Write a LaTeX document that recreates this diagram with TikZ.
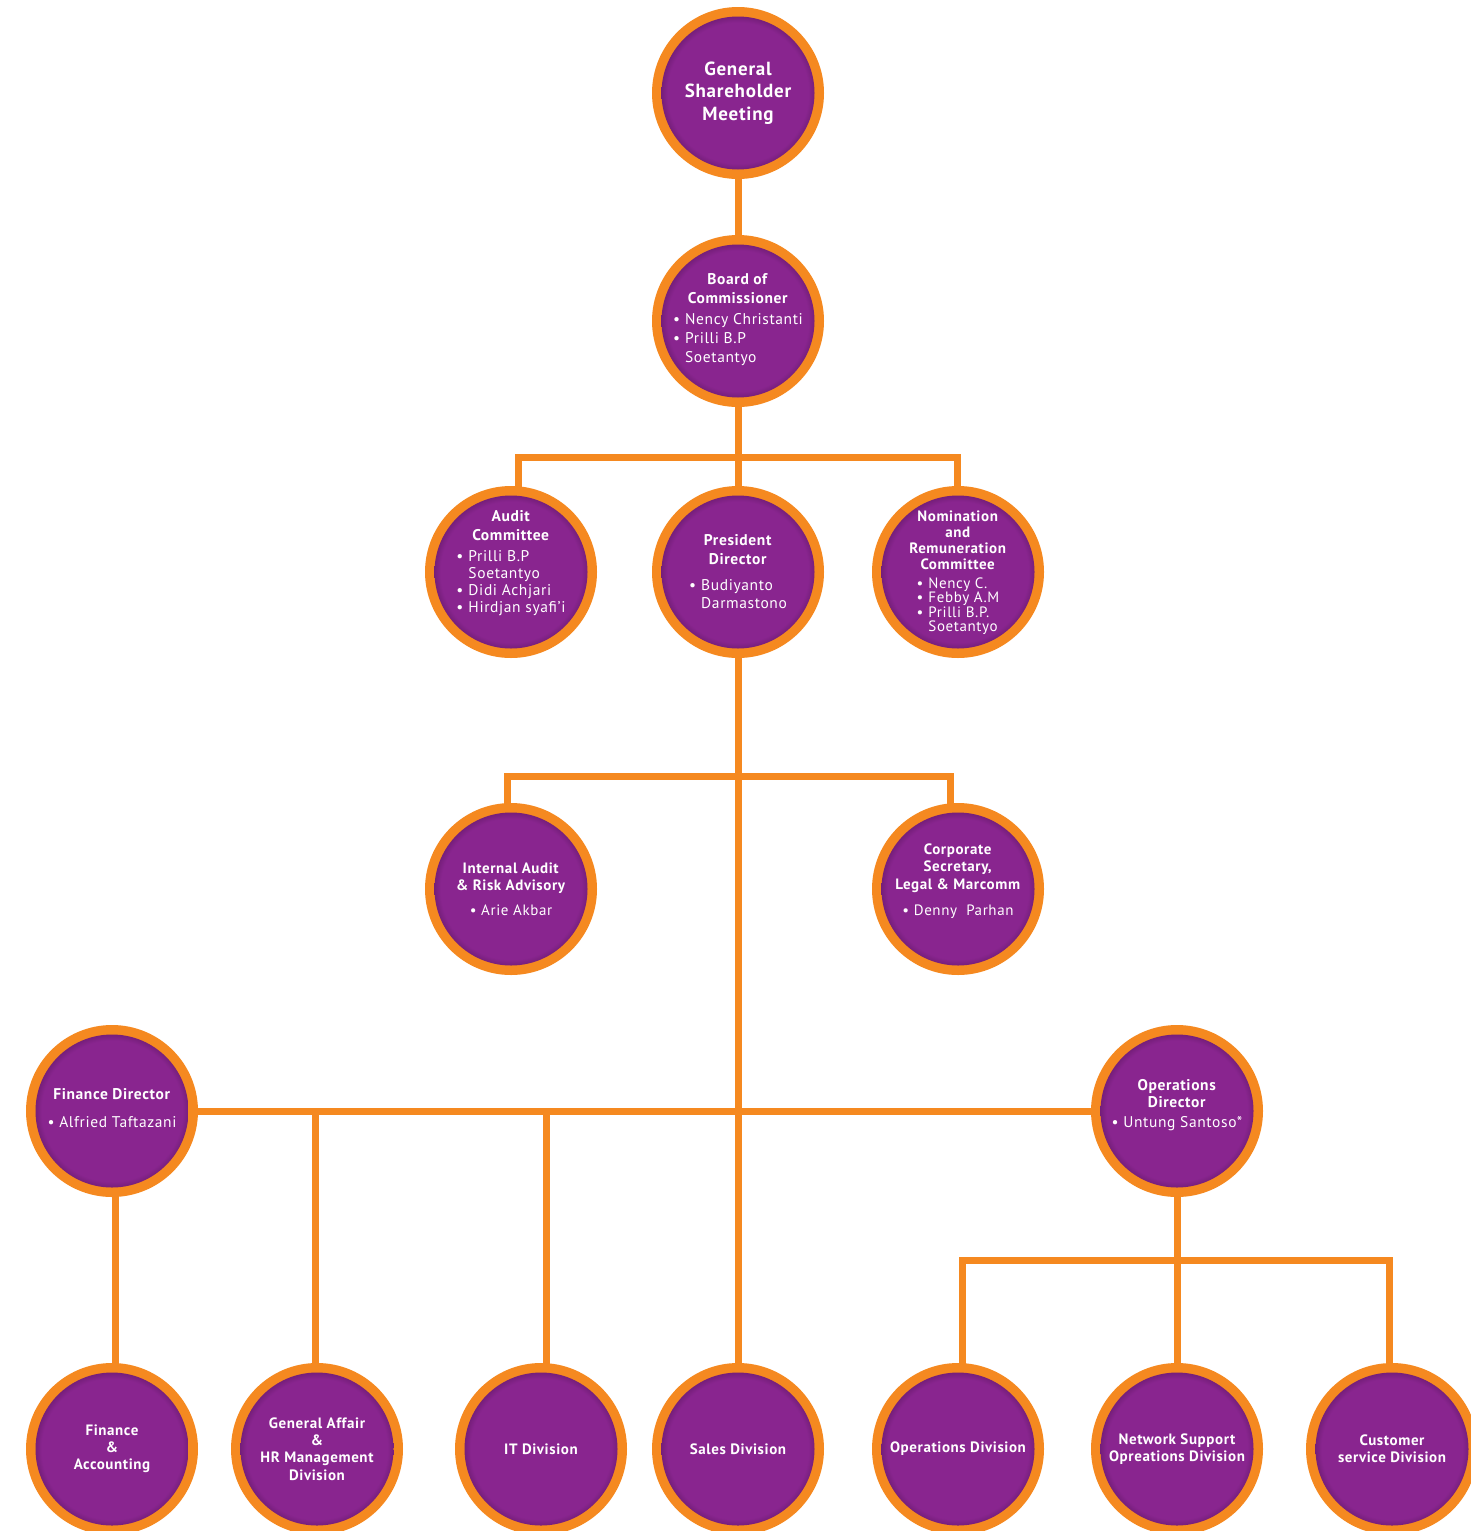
\documentclass[tikz,border=0pt]{standalone}
\usepackage{fontspec}
\setmainfont{PT Sans}[LetterSpace=4]
\usetikzlibrary{backgrounds,calc}
\definecolor{orng}{RGB}{245,137,32}
\definecolor{pmid}{RGB}{137,37,143}
\definecolor{pdark}{RGB}{88,20,92}
\pgfdeclareradialshading{purpball}{\pgfpoint{0bp}{0bp}}{color(0bp)=(pmid); color(20.5bp)=(pmid); color(25bp)=(pdark); color(50bp)=(pdark)}
\newcommand\blist[1]{\begin{tabular}{@{}l@{\hspace{5pt}}l@{}}#1\end{tabular}}
\newcommand\fsz[2]{\fontsize{#1}{#2}\selectfont}
\tikzset{
  orgc/.style={circle, fill=orng, minimum size=172pt, inner sep=0pt,
    path picture={\shade[shading=purpball] (path picture bounding box.center) circle (76.5pt);}},
  txt/.style={text=white, align=center, inner sep=0pt},
  conn/.style={draw=orng, line width=7pt},
}
\begin{document}
\begin{tikzpicture}[x=1pt,y=-1pt]
\useasboundingbox (0,0) rectangle (1471,1531);
% circles
\node[orgc] (gsm)  at (738,93) {};
\node[orgc] (boc)  at (738,321) {};
\node[orgc] (aud)  at (511,572) {};
\node[orgc] (pres) at (738,572) {};
\node[orgc] (nom)  at (958,572) {};
\node[orgc] (ia)   at (511,889) {};
\node[orgc] (cs)   at (958,889) {};
\node[orgc] (fd)   at (112,1111) {};
\node[orgc] (od)   at (1177,1111) {};
\node[orgc] (fa)   at (112,1449) {};
\node[orgc] (ga)   at (317,1449) {};
\node[orgc] (it)   at (541,1449) {};
\node[orgc] (sales) at (738,1449) {};
\node[orgc] (opd)  at (958,1449) {};
\node[orgc] (ns)   at (1177,1449) {};
\node[orgc] (cust) at (1392,1449) {};
% texts
\node[txt, font=\bfseries\fsz{19}{22.5}] (gsm-t) at (gsm.center) {General\\Shareholder\\Meeting};
\node[txt, font=\fsz{15.5}{19}] (boc-t) at (boc.center) {\textbf{Board of}\\\textbf{Commissioner}\\[6pt]
  \blist{\textbullet & Nency Christanti\\ \textbullet & Prilli B.P\\ & Soetantyo}};
\node[txt, yshift=8pt, font=\fsz{15.5}{19}] (aud-t) at (aud.center) {\textbf{Audit}\\\textbf{Committee}\\[7pt]
  \fsz{15.5}{17}\blist{\textbullet & Prilli B.P\\ & Soetantyo\\ \textbullet & Didi Achjari\\ \textbullet & Hirdjan syafi'i}};
\node[txt, yshift=-2pt, font=\fsz{15.5}{19}] (pres-t) at (pres.center) {\textbf{President}\\\textbf{Director}\\[12pt]
  \fsz{15.5}{18}\blist{\textbullet & Budiyanto\\ & Darmastono}};
\node[txt, yshift=-1pt, font=\fsz{15}{16}] (nom-t) at (nom.center) {\textbf{Nomination}\\\textbf{and}\\\textbf{Remuneration}\\\textbf{Committee}\\[7pt]
  \fsz{15}{13}\blist{\textbullet & Nency C.\\ \textbullet & Febby A.M\\ \textbullet & Prilli B.P.\\ & Soetantyo}};
\node[txt, font=\fsz{15}{17}] (ia-t) at (ia.center) {\textbf{Internal Audit}\\\textbf{\& Risk Advisory}\\[8pt]
  \textbullet\ Arie Akbar};
\node[txt, yshift=8pt, font=\fsz{15}{17.5}] (cs-t) at (cs.center) {\textbf{Corporate}\\\textbf{Secretary,}\\\textbf{Legal \& Marcomm}\\[9pt]
  \textbullet\ Denny\ \ Parhan};
\node[txt, yshift=3pt, font=\fsz{15.5}{18}] (fd-t) at (fd.center) {\textbf{Finance Director}\\[10pt]
  \textbullet\ Alfried Taftazani};
\node[txt, yshift=6pt, font=\fsz{15.5}{17}] (od-t) at (od.center) {\textbf{Operations}\\\textbf{Director}\\[3pt]
  \textbullet\ Untung Santoso*};
\node[txt, font=\bfseries\fsz{15}{17}] (fa-t) at (fa.center) {Finance\\\&\\Accounting};
\node[txt, font=\bfseries\fsz{15}{17.3}] (ga-t) at (ga.center) {General Affair\\\&\\HR Management\\Division};
\node[txt, font=\bfseries\fsz{15}{17}] (it-t) at (it.center) {IT Division};
\node[txt, font=\bfseries\fsz{15}{17}] (sales-t) at (sales.center) {Sales Division};
\node[txt, font=\bfseries\fsz{15}{17}] (opd-t) at (opd.center) {Operations Division};
\node[txt, font=\bfseries\fsz{15}{17}] (ns-t) at (ns.center) {Network Support\\Opreations Division};
\node[txt, font=\bfseries\fsz{15}{17}] (cust-t) at (cust.center) {Customer\\service Division};
% connectors
\coordinate (j1) at (738,457);
\coordinate (j2) at (738,776);
\coordinate (j3) at (1177,1260);
\begin{pgfonlayer}{background}
\draw[conn] (gsm) -- (boc);
\draw[conn] (boc) -- (pres);
\draw[conn] ([xshift=7pt]aud.center) |- (j1) -| ([xshift=-1pt]nom.center);
\draw[conn] (pres) -- (sales);
\draw[conn] ([xshift=-4pt]ia.center) |- (j2) -| ([xshift=-8pt]cs.center);
\draw[conn] (fd) -- (od);
\draw[conn] ([xshift=3pt]fd.center) -- ([xshift=3pt]fa.center);
\draw[conn] ([xshift=-2pt]ga.center) -- ([xshift=-2pt]ga.center |- fd.center);
\draw[conn] ([xshift=5pt]it.center) -- ([xshift=5pt]it.center |- fd.center);
\draw[conn] (od) -- (ns);
\draw[conn] ([xshift=4pt]opd.center) |- (j3) -| ([xshift=-3pt]cust.center);
\end{pgfonlayer}
\end{tikzpicture}
\end{document}
